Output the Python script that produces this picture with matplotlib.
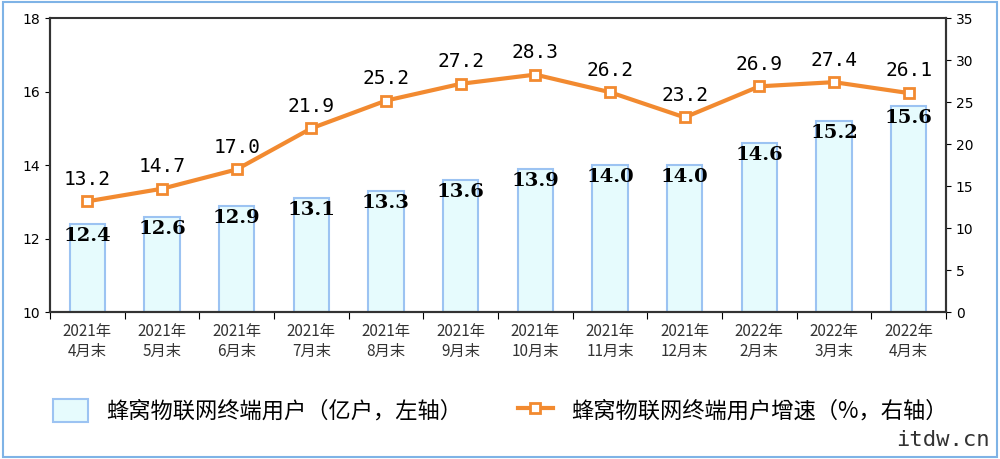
import matplotlib
matplotlib.use("Agg")
import matplotlib.pyplot as plt
from matplotlib import font_manager as fm
from matplotlib.patches import Rectangle

categories = ["2021年\n4月末","2021年\n5月末","2021年\n6月末","2021年\n7月末","2021年\n8月末","2021年\n9月末",
              "2021年\n10月末","2021年\n11月末","2021年\n12月末","2022年\n2月末","2022年\n3月末","2022年\n4月末"]
users = [12.4,12.6,12.9,13.1,13.3,13.6,13.9,14.0,14.0,14.6,15.2,15.6]
growth = [13.2,14.7,17.0,21.9,25.2,27.2,28.3,26.2,23.2,26.9,27.4,26.1]

names = sorted({f.name for f in fm.fontManager.ttflist if "CJK" in f.name})
cjk = names[0] if names else "DejaVu Sans"
plt.rcParams["font.family"] = ["DejaVu Sans", cjk]

fig = plt.figure(figsize=(10,4.59), dpi=100)
fig.patches.append(Rectangle((0.003,0.005),0.994,0.99,transform=fig.transFigure,fill=False,edgecolor="#7fb3e6",lw=1.5))
ax = fig.add_axes([0.05,0.32,0.896,0.64])
x = list(range(len(users)))
ax.bar(x, [u-10 for u in users], bottom=10, width=0.47, color="#e6fbfd", edgecolor="#9cc3f2", lw=1.5,
       label="蜂窝物联网终端用户（亿户，左轴）")
ax.set_ylim(10,18); ax.set_xlim(-0.5,11.5)
ax.set_yticks([10,12,14,16,18])
for i,u in enumerate(users):
    ax.text(i, u-0.08, f"{u:.1f}", ha="center", va="top", fontsize=14, fontweight="bold", family="DejaVu Serif")
ax.set_xticks([i-0.5 for i in range(13)], minor=False)
ax.set_xticklabels([])
ax.set_xticks(x, minor=True)
ax.set_xticklabels(categories, minor=True, family=cjk, fontsize=11, color="#333333")
ax.tick_params(axis="x", which="minor", length=0, pad=8)
ax.tick_params(axis="x", which="major", length=5, direction="out")
ax.tick_params(axis="y", labelsize=10)
ax2 = ax.twinx()
ax2.plot(x, growth, color="#f28a30", lw=3, marker="s", ms=7, mfc="white", mec="#f28a30", mew=2,
         label="蜂窝物联网终端用户增速（%，右轴）")
ax2.set_ylim(0,35); ax2.set_yticks(range(0,36,5))
ax2.tick_params(axis="y", labelsize=10)
for i,g in enumerate(growth):
    ax2.text(i, g+1.5, f"{g:.1f}", ha="center", va="bottom", fontsize=14, family="DejaVu Sans Mono")
for a in (ax, ax2):
    for s in a.spines.values():
        s.set_color("#333333"); s.set_linewidth(1.5)
ax2.spines["top"].set_visible(False)
h1,l1 = ax.get_legend_handles_labels(); h2,l2 = ax2.get_legend_handles_labels()
fig.legend(h1+h2, l1+l2, loc="center", bbox_to_anchor=(0.5,0.105), ncol=2, frameon=False,
           prop={"family":cjk,"size":16}, columnspacing=2.5, handlelength=1.6, handleheight=1.2)
fig.text(0.99,0.02,"itdw.cn",ha="right",va="bottom",fontsize=16,family="DejaVu Sans Mono",color="#333333")
fig.savefig("out.png")
